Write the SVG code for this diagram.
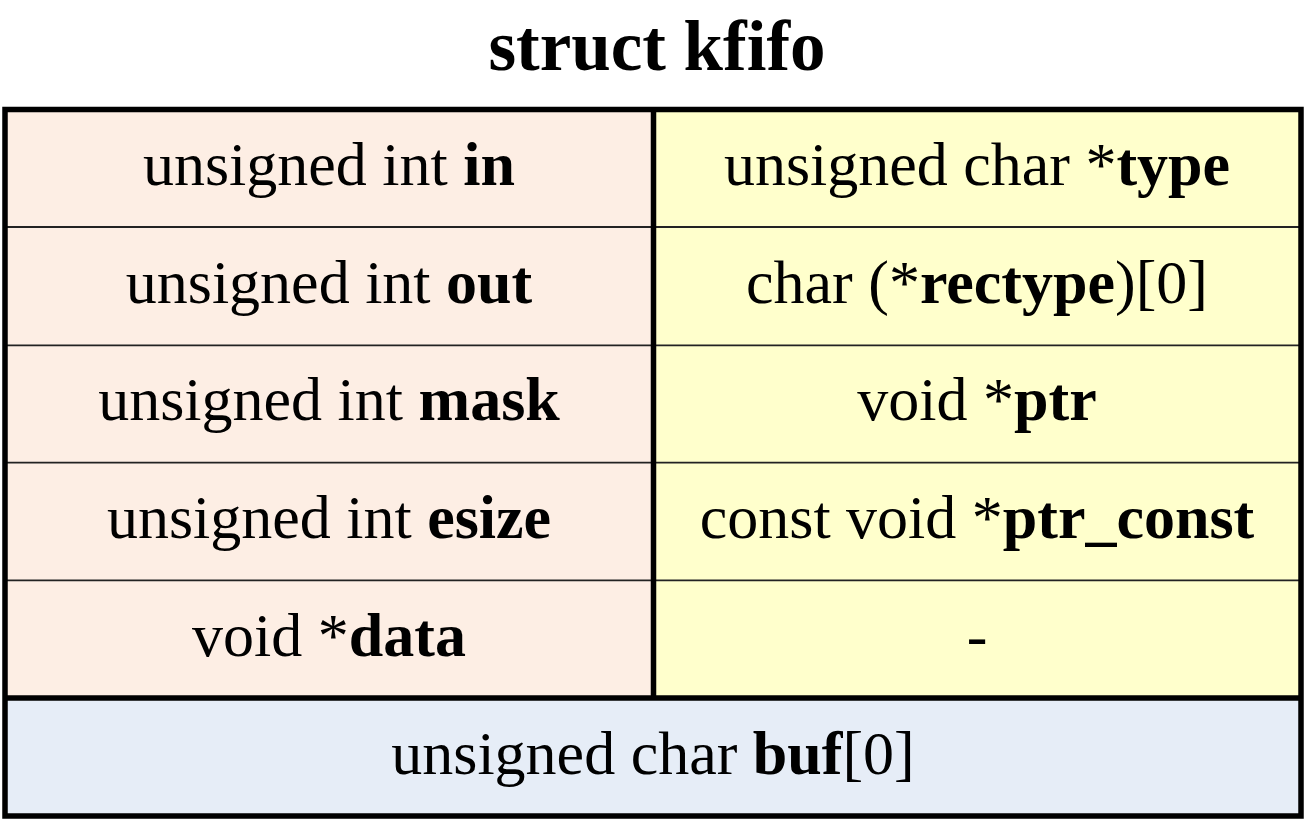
<svg xmlns="http://www.w3.org/2000/svg" width="1307" height="820" viewBox="0 0 1307 820">
<style>
text{font-family:"Liberation Serif","Times New Roman",serif;fill:#000;text-anchor:middle}
.f{font-size:62px}
.b{font-weight:bold}
.t{font-size:71px;font-weight:bold}
.thin{stroke:#222;stroke-width:1.8;fill:none}
.thick{stroke:#000;stroke-width:5.5;fill:none}
</style>
<rect width="1307" height="820" fill="#fff"/>
<text class="t" x="657" y="70">struct kfifo</text>
<g id="left-column">
<rect x="5" y="109.5" width="648.5" height="588.5" fill="#FDEEE4"/>
</g>
<g id="right-column">
<rect x="653.5" y="109.5" width="647.5" height="588.5" fill="#FFFFCC"/>
</g>
<g id="buf-row">
<rect x="5" y="698" width="1296" height="118" fill="#E6EDF7"/>
<text class="f" x="653" y="774">unsigned char <tspan class="b">buf</tspan>[0]</text>
</g>
<g id="field-in"><text class="f" x="329" y="185">unsigned int <tspan class="b">in</tspan></text></g>
<g id="field-out"><text class="f" x="329" y="303">unsigned int <tspan class="b">out</tspan></text></g>
<g id="field-mask"><text class="f" x="329" y="420">unsigned int <tspan class="b">mask</tspan></text></g>
<g id="field-esize"><text class="f" x="329" y="538">unsigned int <tspan class="b">esize</tspan></text></g>
<g id="field-data"><text class="f" x="329" y="656">void *<tspan class="b">data</tspan></text></g>
<g id="field-type"><text class="f" x="977" y="185">unsigned char *<tspan class="b">type</tspan></text></g>
<g id="field-rectype"><text class="f" x="977" y="303">char (*<tspan class="b">rectype</tspan>)[0]</text></g>
<g id="field-ptr"><text class="f" x="977" y="420">void *<tspan class="b">ptr</tspan></text></g>
<g id="field-ptr-const"><text class="f" x="977" y="538">const void *<tspan class="b">ptr_const</tspan></text></g>
<g id="field-empty"><text class="f" x="977" y="656">-</text></g>
<g id="connectors">
<line class="thin" x1="5" y1="227" x2="1301" y2="227"/>
<line class="thin" x1="5" y1="345.3" x2="1301" y2="345.3"/>
<line class="thin" x1="5" y1="462.7" x2="1301" y2="462.7"/>
<line class="thin" x1="5" y1="580.3" x2="1301" y2="580.3"/>
<line class="thick" x1="653.5" y1="109.5" x2="653.5" y2="698"/>
<line class="thick" x1="5" y1="698" x2="1301" y2="698"/>
<rect class="thick" x="5" y="109.5" width="1296" height="706.5"/>
</g>
</svg>
